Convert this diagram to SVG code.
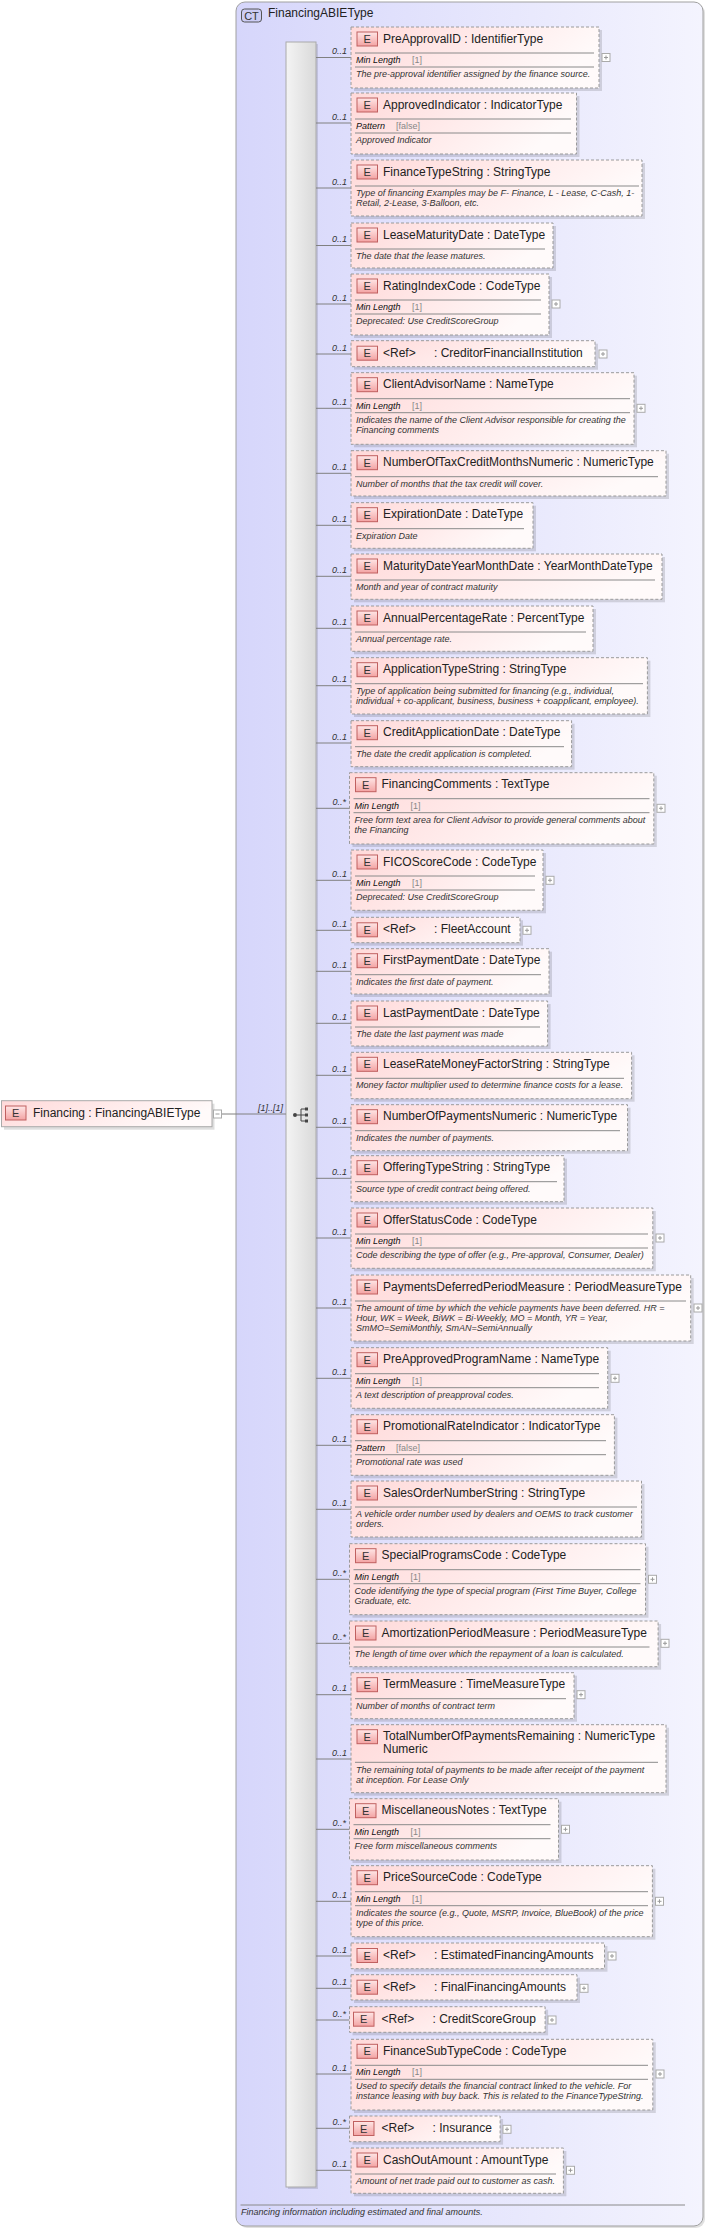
<svg xmlns="http://www.w3.org/2000/svg" width="708" height="2228" viewBox="0 0 708 2228">
<defs>
<linearGradient id="ctg" x1="0" y1="0" x2="1" y2="0"><stop offset="0" stop-color="#d6d6fb"/><stop offset="1" stop-color="#f4f4fe"/></linearGradient>
<linearGradient id="ng" x1="0" y1="0" x2="1" y2="0.3"><stop offset="0" stop-color="#ffd9d9"/><stop offset="1" stop-color="#fffafa"/></linearGradient>
<linearGradient id="eg" x1="0" y1="0" x2="0" y2="1"><stop offset="0" stop-color="#ffe6e6"/><stop offset="1" stop-color="#f3a3a3"/></linearGradient>
<linearGradient id="bg" x1="0" y1="0" x2="1" y2="0"><stop offset="0" stop-color="#f4f4f4"/><stop offset="1" stop-color="#d9d9d9"/></linearGradient>
<style>
.sh{fill:#000;opacity:.13}
.nb{fill:url(#ng);stroke:#9a9a9a;stroke-dasharray:3 2}
.ns{fill:url(#ng);stroke:#aaa}
.ei{fill:url(#eg);stroke:#c06060}
.et{font:11px "Liberation Sans",sans-serif;fill:#333;text-anchor:middle}
.t{font:12px "Liberation Sans",sans-serif;fill:#222}
.s{stroke:#8a8a8a}
.f{font:italic 9px "Liberation Sans",sans-serif;fill:#111}
.fv{font:9px "Liberation Sans",sans-serif;fill:#888}
.d{font:italic 9px "Liberation Sans",sans-serif;fill:#333}
.m{font:italic 9px "Liberation Sans",sans-serif;fill:#333;text-anchor:end}
.c{stroke:#808080;fill:none}
.pb{fill:#fff;stroke:#aaa}
.pp{stroke:#999}
</style>
</defs>
<g id="ct">
<rect x="238" y="4" width="467" height="2224" rx="9" fill="#000" opacity=".12"/>
<rect x="236" y="2" width="467" height="2224" rx="9" fill="url(#ctg)" stroke="#a0a0a0"/>
<rect x="241.5" y="9" width="20" height="13" rx="3" fill="#ccccf5" stroke="#555"/>
<text x="251.5" y="19.5" class="et">CT</text>
<text x="268" y="17" class="t">FinancingABIEType</text>
<line x1="240.5" y1="2205" x2="685" y2="2205" class="s"/>
<text x="241" y="2215" class="d">Financing information including estimated and final amounts.</text>
</g>
<g id="sequence">
<rect x="288" y="44" width="30" height="2145" fill="#000" opacity=".12"/>
<rect x="286" y="42" width="30" height="2145" fill="url(#bg)" stroke="#aaa"/>
<circle cx="295" cy="1115" r="2" fill="#444"/>
<path d="M297 1115H301M301 1109V1121M301 1109H305M301 1115H305M301 1121H305" stroke="#444" fill="none"/>
<rect x="305" y="1107.5" width="3" height="3" fill="#444"/><rect x="305" y="1113.5" width="3" height="3" fill="#444"/><rect x="305" y="1119.5" width="3" height="3" fill="#444"/>
</g>
<g id="connectors">
<path class="c" d="M221 1114H286"/>
<text x="283" y="1111" class="m">[1]..[1]</text>
<path class="c" d="M316 57.5H351M316 123H351M316 188H351M316 245.5H351M316 304H351M316 354H351M316 408.3H351M316 473.3H351M316 525.3H351M316 576.3H351M316 628.3H351M316 685.7H351M316 743H351M316 808.3H349.5M316 880.3H351M316 930.3H351M316 971.3H351M316 1023.3H351M316 1075.3H351M316 1127.3H351M316 1178.3H351M316 1238H351M316 1308H351M316 1378.3H351M316 1445.3H351M316 1509.3H351M316 1579.3H349.5M316 1643.3H349.5M316 1694.7H351M316 1759H351M316 1829.3H349.5M316 1901.3H351M316 1956H351M316 1988.3H351M316 2020H349.5M316 2074H351M316 2128.3H349.5M316 2170.3H351"/>
<g class="m">
<text x="347" y="54">0..1</text><text x="347" y="119.5">0..1</text><text x="347" y="184.5">0..1</text><text x="347" y="242">0..1</text><text x="347" y="300.5">0..1</text><text x="347" y="350.5">0..1</text><text x="347" y="404.8">0..1</text><text x="347" y="469.8">0..1</text><text x="347" y="521.8">0..1</text><text x="347" y="572.8">0..1</text><text x="347" y="624.8">0..1</text><text x="347" y="682.2">0..1</text><text x="347" y="739.5">0..1</text><text x="346" y="804.8">0..*</text><text x="347" y="876.8">0..1</text><text x="347" y="926.8">0..1</text><text x="347" y="967.8">0..1</text><text x="347" y="1019.8">0..1</text><text x="347" y="1071.8">0..1</text><text x="347" y="1123.8">0..1</text><text x="347" y="1174.8">0..1</text><text x="347" y="1234.5">0..1</text><text x="347" y="1304.5">0..1</text><text x="347" y="1374.8">0..1</text><text x="347" y="1441.8">0..1</text><text x="347" y="1505.8">0..1</text><text x="346" y="1575.8">0..*</text><text x="346" y="1639.8">0..*</text><text x="347" y="1691.2">0..1</text><text x="347" y="1755.5">0..1</text><text x="346" y="1825.8">0..*</text><text x="347" y="1897.8">0..1</text><text x="347" y="1952.5">0..1</text><text x="347" y="1984.8">0..1</text><text x="346" y="2016.5">0..*</text><text x="347" y="2070.5">0..1</text><text x="346" y="2124.8">0..*</text><text x="347" y="2166.8">0..1</text>
</g>
</g>
<g id="Financing">
<rect x="4" y="1103.7" width="210.5" height="26" class="sh"/>
<rect x="1.5" y="1100.7" width="210.5" height="26" class="ns"/>
<rect x="5.5" y="1106" width="20.5" height="14" class="ei"/><text x="15.7" y="1117" class="et">E</text>
<text x="33" y="1117" class="t">Financing : FinancingABIEType</text>
<rect x="213.5" y="1110" width="8" height="8" class="pb"/><path d="M215.5 1114H219.5" class="pp"/>
</g>
<g id="PreApprovalID" transform="translate(351 27)">
<rect x="3" y="3" width="248" height="61" class="sh"/><rect width="248" height="61" class="nb"/>
<rect x="6" y="5" width="20.5" height="14" class="ei"/><text x="16.2" y="16" class="et">E</text>
<text x="32" y="15.5" class="t">PreApprovalID : IdentifierType</text>
<path d="M4 26H243M4 40H243" class="s"/>
<text x="5" y="36" class="f">Min Length</text><text x="61" y="36" class="fv">[1]</text>
<text x="5" y="50" class="d">The pre-approval identifier assigned by the finance source.</text>
<rect x="251" y="26.5" width="8" height="8" class="pb"/><path d="M253 30.5H257M255 28.5V32.5" class="pp"/>
</g>
<g id="ApprovedIndicator" transform="translate(351 93)">
<rect x="3" y="3" width="225.5" height="61" class="sh"/><rect width="225.5" height="61" class="nb"/>
<rect x="6" y="5" width="20.5" height="14" class="ei"/><text x="16.2" y="16" class="et">E</text>
<text x="32" y="15.5" class="t">ApprovedIndicator : IndicatorType</text>
<path d="M4 26H220M4 40H220" class="s"/>
<text x="5" y="36" class="f">Pattern</text><text x="45" y="36" class="fv">[false]</text>
<text x="5" y="50" class="d">Approved Indicator</text>
</g>
<g id="FinanceTypeString" transform="translate(351 160)">
<rect x="3" y="3" width="291" height="56" class="sh"/><rect width="291" height="56" class="nb"/>
<rect x="6" y="5" width="20.5" height="14" class="ei"/><text x="16.2" y="16" class="et">E</text>
<text x="32" y="15.5" class="t">FinanceTypeString : StringType</text>
<path d="M4 26H288" class="s"/>
<text x="5" y="36" class="d">Type of financing Examples may be F- Finance, L - Lease, C-Cash, 1-</text>
<text x="5" y="46" class="d">Retail, 2-Lease, 3-Balloon, etc.</text>
</g>
<g id="LeaseMaturityDate" transform="translate(351 223)">
<rect x="3" y="3" width="202" height="45" class="sh"/><rect width="202" height="45" class="nb"/>
<rect x="6" y="5" width="20.5" height="14" class="ei"/><text x="16.2" y="16" class="et">E</text>
<text x="32" y="15.5" class="t">LeaseMaturityDate : DateType</text>
<path d="M4 26H194" class="s"/>
<text x="5" y="36" class="d">The date that the lease matures.</text>
</g>
<g id="RatingIndexCode" transform="translate(351 274)">
<rect x="3" y="3" width="198" height="61" class="sh"/><rect width="198" height="61" class="nb"/>
<rect x="6" y="5" width="20.5" height="14" class="ei"/><text x="16.2" y="16" class="et">E</text>
<text x="32" y="15.5" class="t">RatingIndexCode : CodeType</text>
<path d="M4 26H190M4 40H190" class="s"/>
<text x="5" y="36" class="f">Min Length</text><text x="61" y="36" class="fv">[1]</text>
<text x="5" y="50" class="d">Deprecated: Use CreditScoreGroup</text>
<rect x="201" y="26" width="8" height="8" class="pb"/><path d="M203 30H207M205 28V32" class="pp"/>
</g>
<g id="CreditorFinancialInstitution" transform="translate(351 340.7)">
<rect x="3" y="3" width="244" height="26" class="sh"/><rect width="244" height="26" class="nb"/>
<rect x="6" y="5.5" width="20.5" height="14" class="ei"/><text x="16.2" y="16.5" class="et">E</text>
<text x="32" y="16" class="t">&lt;Ref&gt;</text><text x="83" y="16" class="t">: CreditorFinancialInstitution</text>
<rect x="248" y="9.3" width="8" height="8" class="pb"/><path d="M250 13.3H254M252 11.3V15.3" class="pp"/>
</g>
<g id="ClientAdvisorName" transform="translate(351 372.7)">
<rect x="3" y="3" width="283" height="71.6" class="sh"/><rect width="283" height="71.6" class="nb"/>
<rect x="6" y="5" width="20.5" height="14" class="ei"/><text x="16.2" y="16" class="et">E</text>
<text x="32" y="15.5" class="t">ClientAdvisorName : NameType</text>
<path d="M4 26H279M4 40H279" class="s"/>
<text x="5" y="36" class="f">Min Length</text><text x="61" y="36" class="fv">[1]</text>
<text x="5" y="50" class="d">Indicates the name of the Client Advisor responsible for creating the</text>
<text x="5" y="60" class="d">Financing comments</text>
<rect x="286" y="31.6" width="8" height="8" class="pb"/><path d="M288 35.6H292M290 33.6V37.6" class="pp"/>
</g>
<g id="NumberOfTaxCreditMonthsNumeric" transform="translate(351 450.7)">
<rect x="3" y="3" width="315" height="45.3" class="sh"/><rect width="315" height="45.3" class="nb"/>
<rect x="6" y="5" width="20.5" height="14" class="ei"/><text x="16.2" y="16" class="et">E</text>
<text x="32" y="15.5" class="t">NumberOfTaxCreditMonthsNumeric : NumericType</text>
<path d="M4 26H307" class="s"/>
<text x="5" y="36" class="d">Number of months that the tax credit will cover.</text>
</g>
<g id="ExpirationDate" transform="translate(351 502.7)">
<rect x="3" y="3" width="182" height="45.6" class="sh"/><rect width="182" height="45.6" class="nb"/>
<rect x="6" y="5" width="20.5" height="14" class="ei"/><text x="16.2" y="16" class="et">E</text>
<text x="32" y="15.5" class="t">ExpirationDate : DateType</text>
<path d="M4 26H173" class="s"/>
<text x="5" y="36" class="d">Expiration Date</text>
</g>
<g id="MaturityDateYearMonthDate" transform="translate(351 554)">
<rect x="3" y="3" width="311" height="45.3" class="sh"/><rect width="311" height="45.3" class="nb"/>
<rect x="6" y="5" width="20.5" height="14" class="ei"/><text x="16.2" y="16" class="et">E</text>
<text x="32" y="15.5" class="t">MaturityDateYearMonthDate : YearMonthDateType</text>
<path d="M4 26H304" class="s"/>
<text x="5" y="36" class="d">Month and year of contract maturity</text>
</g>
<g id="AnnualPercentageRate" transform="translate(351 606)">
<rect x="3" y="3" width="242" height="45.3" class="sh"/><rect width="242" height="45.3" class="nb"/>
<rect x="6" y="5" width="20.5" height="14" class="ei"/><text x="16.2" y="16" class="et">E</text>
<text x="32" y="15.5" class="t">AnnualPercentageRate : PercentType</text>
<path d="M4 26H235" class="s"/>
<text x="5" y="36" class="d">Annual percentage rate.</text>
</g>
<g id="ApplicationTypeString" transform="translate(351 657.7)">
<rect x="3" y="3" width="296.4" height="56.3" class="sh"/><rect width="296.4" height="56.3" class="nb"/>
<rect x="6" y="5" width="20.5" height="14" class="ei"/><text x="16.2" y="16" class="et">E</text>
<text x="32" y="15.5" class="t">ApplicationTypeString : StringType</text>
<path d="M4 26H292" class="s"/>
<text x="5" y="36" class="d">Type of application being submitted for financing (e.g., individual,</text>
<text x="5" y="46" class="d">individual + co-applicant, business, business + coapplicant, employee).</text>
</g>
<g id="CreditApplicationDate" transform="translate(351 720.7)">
<rect x="3" y="3" width="220.6" height="46" class="sh"/><rect width="220.6" height="46" class="nb"/>
<rect x="6" y="5" width="20.5" height="14" class="ei"/><text x="16.2" y="16" class="et">E</text>
<text x="32" y="15.5" class="t">CreditApplicationDate : DateType</text>
<path d="M4 26H213" class="s"/>
<text x="5" y="36" class="d">The date the credit application is completed.</text>
</g>
<g id="FinancingComments" transform="translate(349.5 772.7)">
<rect x="3" y="3" width="304.3" height="71.3" class="sh"/><rect width="304.3" height="71.3" class="nb"/>
<rect x="6" y="5" width="20.5" height="14" class="ei"/><text x="16.2" y="16" class="et">E</text>
<text x="32" y="15.5" class="t">FinancingComments : TextType</text>
<path d="M4 26H300M4 40H300" class="s"/>
<text x="5" y="36" class="f">Min Length</text><text x="61" y="36" class="fv">[1]</text>
<text x="5" y="50" class="d">Free form text area for Client Advisor to provide general comments about</text>
<text x="5" y="60" class="d">the Financing</text>
<rect x="307.5" y="31.6" width="8" height="8" class="pb"/><path d="M309.5 35.6H313.5M311.5 33.6V37.6" class="pp"/>
</g>
<g id="FICOScoreCode" transform="translate(351 850)">
<rect x="3" y="3" width="192" height="60.3" class="sh"/><rect width="192" height="60.3" class="nb"/>
<rect x="6" y="5" width="20.5" height="14" class="ei"/><text x="16.2" y="16" class="et">E</text>
<text x="32" y="15.5" class="t">FICOScoreCode : CodeType</text>
<path d="M4 26H184M4 40H184" class="s"/>
<text x="5" y="36" class="f">Min Length</text><text x="61" y="36" class="fv">[1]</text>
<text x="5" y="50" class="d">Deprecated: Use CreditScoreGroup</text>
<rect x="195" y="26.3" width="8" height="8" class="pb"/><path d="M197 30.3H201M199 28.3V32.3" class="pp"/>
</g>
<g id="FleetAccount" transform="translate(351 917.3)">
<rect x="3" y="3" width="169" height="25.4" class="sh"/><rect width="169" height="25.4" class="nb"/>
<rect x="6" y="5.5" width="20.5" height="14" class="ei"/><text x="16.2" y="16.5" class="et">E</text>
<text x="32" y="16" class="t">&lt;Ref&gt;</text><text x="83" y="16" class="t">: FleetAccount</text>
<rect x="172" y="9" width="8" height="8" class="pb"/><path d="M174 13H178M176 11V15" class="pp"/>
</g>
<g id="FirstPaymentDate" transform="translate(351 948.7)">
<rect x="3" y="3" width="198" height="45.3" class="sh"/><rect width="198" height="45.3" class="nb"/>
<rect x="6" y="5" width="20.5" height="14" class="ei"/><text x="16.2" y="16" class="et">E</text>
<text x="32" y="15.5" class="t">FirstPaymentDate : DateType</text>
<path d="M4 26H190" class="s"/>
<text x="5" y="36" class="d">Indicates the first date of payment.</text>
</g>
<g id="LastPaymentDate" transform="translate(351 1001)">
<rect x="3" y="3" width="196.6" height="45" class="sh"/><rect width="196.6" height="45" class="nb"/>
<rect x="6" y="5" width="20.5" height="14" class="ei"/><text x="16.2" y="16" class="et">E</text>
<text x="32" y="15.5" class="t">LastPaymentDate : DateType</text>
<path d="M4 26H189" class="s"/>
<text x="5" y="36" class="d">The date the last payment was made</text>
</g>
<g id="LeaseRateMoneyFactorString" transform="translate(351 1052.3)">
<rect x="3" y="3" width="280.6" height="46.4" class="sh"/><rect width="280.6" height="46.4" class="nb"/>
<rect x="6" y="5" width="20.5" height="14" class="ei"/><text x="16.2" y="16" class="et">E</text>
<text x="32" y="15.5" class="t">LeaseRateMoneyFactorString : StringType</text>
<path d="M4 26H273" class="s"/>
<text x="5" y="36" class="d">Money factor multiplier used to determine finance costs for a lease.</text>
</g>
<g id="NumberOfPaymentsNumeric" transform="translate(351 1104.7)">
<rect x="3" y="3" width="276.5" height="46" class="sh"/><rect width="276.5" height="46" class="nb"/>
<rect x="6" y="5" width="20.5" height="14" class="ei"/><text x="16.2" y="16" class="et">E</text>
<text x="32" y="15.5" class="t">NumberOfPaymentsNumeric : NumericType</text>
<path d="M4 26H269" class="s"/>
<text x="5" y="36" class="d">Indicates the number of payments.</text>
</g>
<g id="OfferingTypeString" transform="translate(351 1155.7)">
<rect x="3" y="3" width="213" height="46" class="sh"/><rect width="213" height="46" class="nb"/>
<rect x="6" y="5" width="20.5" height="14" class="ei"/><text x="16.2" y="16" class="et">E</text>
<text x="32" y="15.5" class="t">OfferingTypeString : StringType</text>
<path d="M4 26H206" class="s"/>
<text x="5" y="36" class="d">Source type of credit contract being offered.</text>
</g>
<g id="OfferStatusCode" transform="translate(351 1208)">
<rect x="3" y="3" width="301.8" height="60.3" class="sh"/><rect width="301.8" height="60.3" class="nb"/>
<rect x="6" y="5" width="20.5" height="14" class="ei"/><text x="16.2" y="16" class="et">E</text>
<text x="32" y="15.5" class="t">OfferStatusCode : CodeType</text>
<path d="M4 26H297M4 40H297" class="s"/>
<text x="5" y="36" class="f">Min Length</text><text x="61" y="36" class="fv">[1]</text>
<text x="5" y="50" class="d">Code describing the type of offer (e.g., Pre-approval, Consumer, Dealer)</text>
<rect x="305" y="26" width="8" height="8" class="pb"/><path d="M307 30H311M309 28V32" class="pp"/>
</g>
<g id="PaymentsDeferredPeriodMeasure" transform="translate(351 1275)">
<rect x="3" y="3" width="339.7" height="66" class="sh"/><rect width="339.7" height="66" class="nb"/>
<rect x="6" y="5" width="20.5" height="14" class="ei"/><text x="16.2" y="16" class="et">E</text>
<text x="32" y="15.5" class="t">PaymentsDeferredPeriodMeasure : PeriodMeasureType</text>
<path d="M4 26H335" class="s"/>
<text x="5" y="36" class="d">The amount of time by which the vehicle payments have been deferred. HR =</text>
<text x="5" y="46" class="d">Hour, WK = Week, BiWK = Bi-Weekly, MO = Month, YR = Year,</text>
<text x="5" y="56" class="d">SmMO=SemiMonthly, SmAN=SemiAnnually</text>
<rect x="343" y="29" width="8" height="8" class="pb"/><path d="M345 33H349M347 31V35" class="pp"/>
</g>
<g id="PreApprovedProgramName" transform="translate(351 1347.7)">
<rect x="3" y="3" width="256.7" height="60.6" class="sh"/><rect width="256.7" height="60.6" class="nb"/>
<rect x="6" y="5" width="20.5" height="14" class="ei"/><text x="16.2" y="16" class="et">E</text>
<text x="32" y="15.5" class="t">PreApprovedProgramName : NameType</text>
<path d="M4 26H248M4 40H248" class="s"/>
<text x="5" y="36" class="f">Min Length</text><text x="61" y="36" class="fv">[1]</text>
<text x="5" y="50" class="d">A text description of preapproval codes.</text>
<rect x="260" y="26.6" width="8" height="8" class="pb"/><path d="M262 30.6H266M264 28.6V32.6" class="pp"/>
</g>
<g id="PromotionalRateIndicator" transform="translate(351 1414.7)">
<rect x="3" y="3" width="263.4" height="60.6" class="sh"/><rect width="263.4" height="60.6" class="nb"/>
<rect x="6" y="5" width="20.5" height="14" class="ei"/><text x="16.2" y="16" class="et">E</text>
<text x="32" y="15.5" class="t">PromotionalRateIndicator : IndicatorType</text>
<path d="M4 26H255M4 40H255" class="s"/>
<text x="5" y="36" class="f">Pattern</text><text x="45" y="36" class="fv">[false]</text>
<text x="5" y="50" class="d">Promotional rate was used</text>
</g>
<g id="SalesOrderNumberString" transform="translate(351 1481)">
<rect x="3" y="3" width="290.5" height="56" class="sh"/><rect width="290.5" height="56" class="nb"/>
<rect x="6" y="5" width="20.5" height="14" class="ei"/><text x="16.2" y="16" class="et">E</text>
<text x="32" y="15.5" class="t">SalesOrderNumberString : StringType</text>
<path d="M4 26H286" class="s"/>
<text x="5" y="36" class="d">A vehicle order number used by dealers and OEMS to track customer</text>
<text x="5" y="46" class="d">orders.</text>
</g>
<g id="SpecialProgramsCode" transform="translate(349.5 1543.7)">
<rect x="3" y="3" width="296" height="71" class="sh"/><rect width="296" height="71" class="nb"/>
<rect x="6" y="5" width="20.5" height="14" class="ei"/><text x="16.2" y="16" class="et">E</text>
<text x="32" y="15.5" class="t">SpecialProgramsCode : CodeType</text>
<path d="M4 26H291M4 40H291" class="s"/>
<text x="5" y="36" class="f">Min Length</text><text x="61" y="36" class="fv">[1]</text>
<text x="5" y="50" class="d">Code identifying the type of special program (First Time Buyer, College</text>
<text x="5" y="60" class="d">Graduate, etc.</text>
<rect x="299" y="31.6" width="8" height="8" class="pb"/><path d="M301 35.6H305M303 33.6V37.6" class="pp"/>
</g>
<g id="AmortizationPeriodMeasure" transform="translate(349.5 1621)">
<rect x="3" y="3" width="308.6" height="45.7" class="sh"/><rect width="308.6" height="45.7" class="nb"/>
<rect x="6" y="5" width="20.5" height="14" class="ei"/><text x="16.2" y="16" class="et">E</text>
<text x="32" y="15.5" class="t">AmortizationPeriodMeasure : PeriodMeasureType</text>
<path d="M4 26H300" class="s"/>
<text x="5" y="36" class="d">The length of time over which the repayment of a loan is calculated.</text>
<rect x="311.5" y="18.3" width="8" height="8" class="pb"/><path d="M313.5 22.3H317.5M315.5 20.3V24.3" class="pp"/>
</g>
<g id="TermMeasure" transform="translate(351 1672.7)">
<rect x="3" y="3" width="223" height="46" class="sh"/><rect width="223" height="46" class="nb"/>
<rect x="6" y="5" width="20.5" height="14" class="ei"/><text x="16.2" y="16" class="et">E</text>
<text x="32" y="15.5" class="t">TermMeasure : TimeMeasureType</text>
<path d="M4 26H215" class="s"/>
<text x="5" y="36" class="d">Number of months of contract term</text>
<rect x="226" y="18" width="8" height="8" class="pb"/><path d="M228 22H232M230 20V24" class="pp"/>
</g>
<g id="TotalNumberOfPaymentsRemaining" transform="translate(351 1724.7)">
<rect x="3" y="3" width="315" height="68" class="sh"/><rect width="315" height="68" class="nb"/>
<rect x="6" y="5" width="20.5" height="14" class="ei"/><text x="16.2" y="16" class="et">E</text>
<text x="32" y="15.5" class="t">TotalNumberOfPaymentsRemaining : NumericType</text>
<text x="32" y="28" class="t">Numeric</text>
<path d="M4 37.6H307" class="s"/>
<text x="5" y="48" class="d">The remaining total of payments to be made after receipt of the payment</text>
<text x="5" y="58" class="d">at inception. For Lease Only</text>
</g>
<g id="MiscellaneousNotes" transform="translate(349.5 1798.7)">
<rect x="3" y="3" width="209" height="61.3" class="sh"/><rect width="209" height="61.3" class="nb"/>
<rect x="6" y="5" width="20.5" height="14" class="ei"/><text x="16.2" y="16" class="et">E</text>
<text x="32" y="15.5" class="t">MiscellaneousNotes : TextType</text>
<path d="M4 26H201M4 40H201" class="s"/>
<text x="5" y="36" class="f">Min Length</text><text x="61" y="36" class="fv">[1]</text>
<text x="5" y="50" class="d">Free form miscellaneous comments</text>
<rect x="212" y="26.6" width="8" height="8" class="pb"/><path d="M214 30.6H218M216 28.6V32.6" class="pp"/>
</g>
<g id="PriceSourceCode" transform="translate(351 1865.7)">
<rect x="3" y="3" width="301.4" height="71" class="sh"/><rect width="301.4" height="71" class="nb"/>
<rect x="6" y="5" width="20.5" height="14" class="ei"/><text x="16.2" y="16" class="et">E</text>
<text x="32" y="15.5" class="t">PriceSourceCode : CodeType</text>
<path d="M4 26H297M4 40H297" class="s"/>
<text x="5" y="36" class="f">Min Length</text><text x="61" y="36" class="fv">[1]</text>
<text x="5" y="50" class="d">Indicates the source (e.g., Quote, MSRP, Invoice, BlueBook) of the price</text>
<text x="5" y="60" class="d">type of this price.</text>
<rect x="304.5" y="31.6" width="8" height="8" class="pb"/><path d="M306.5 35.6H310.5M308.5 33.6V37.6" class="pp"/>
</g>
<g id="EstimatedFinancingAmounts" transform="translate(351 1943)">
<rect x="3" y="3" width="253.5" height="25.7" class="sh"/><rect width="253.5" height="25.7" class="nb"/>
<rect x="6" y="5.5" width="20.5" height="14" class="ei"/><text x="16.2" y="16.5" class="et">E</text>
<text x="32" y="16" class="t">&lt;Ref&gt;</text><text x="83" y="16" class="t">: EstimatedFinancingAmounts</text>
<rect x="257" y="9" width="8" height="8" class="pb"/><path d="M259 13H263M261 11V15" class="pp"/>
</g>
<g id="FinalFinancingAmounts" transform="translate(351 1974.7)">
<rect x="3" y="3" width="226" height="25.3" class="sh"/><rect width="226" height="25.3" class="nb"/>
<rect x="6" y="5.5" width="20.5" height="14" class="ei"/><text x="16.2" y="16.5" class="et">E</text>
<text x="32" y="16" class="t">&lt;Ref&gt;</text><text x="83" y="16" class="t">: FinalFinancingAmounts</text>
<rect x="229" y="9.6" width="8" height="8" class="pb"/><path d="M231 13.6H235M233 11.6V15.6" class="pp"/>
</g>
<g id="CreditScoreGroup" transform="translate(349.5 2006.7)">
<rect x="3" y="3" width="195.6" height="25.6" class="sh"/><rect width="195.6" height="25.6" class="nb"/>
<rect x="4" y="5.5" width="20.5" height="14" class="ei"/><text x="14.2" y="16.5" class="et">E</text>
<text x="32" y="16" class="t">&lt;Ref&gt;</text><text x="83" y="16" class="t">: CreditScoreGroup</text>
<rect x="198.5" y="9.3" width="8" height="8" class="pb"/><path d="M200.5 13.3H204.5M202.5 11.3V15.3" class="pp"/>
</g>
<g id="FinanceSubTypeCode" transform="translate(351 2039.3)">
<rect x="3" y="3" width="301.8" height="70.7" class="sh"/><rect width="301.8" height="70.7" class="nb"/>
<rect x="6" y="5" width="20.5" height="14" class="ei"/><text x="16.2" y="16" class="et">E</text>
<text x="32" y="15.5" class="t">FinanceSubTypeCode : CodeType</text>
<path d="M4 26H297M4 40H297" class="s"/>
<text x="5" y="36" class="f">Min Length</text><text x="61" y="36" class="fv">[1]</text>
<text x="5" y="50" class="d">Used to specify details the financial contract linked to the vehicle. For</text>
<text x="5" y="60" class="d">instance leasing with buy back. This is related to the FinanceTypeString.</text>
<rect x="305" y="30.7" width="8" height="8" class="pb"/><path d="M307 34.7H311M309 32.7V36.7" class="pp"/>
</g>
<g id="Insurance" transform="translate(349.5 2116)">
<rect x="3" y="3" width="150.6" height="25.7" class="sh"/><rect width="150.6" height="25.7" class="nb"/>
<rect x="4" y="5.5" width="20.5" height="14" class="ei"/><text x="14.2" y="16.5" class="et">E</text>
<text x="32" y="16" class="t">&lt;Ref&gt;</text><text x="83" y="16" class="t">: Insurance</text>
<rect x="153.5" y="9.3" width="8" height="8" class="pb"/><path d="M155.5 13.3H159.5M157.5 11.3V15.3" class="pp"/>
</g>
<g id="CashOutAmount" transform="translate(351 2148)">
<rect x="3" y="3" width="212.4" height="45.3" class="sh"/><rect width="212.4" height="45.3" class="nb"/>
<rect x="6" y="5" width="20.5" height="14" class="ei"/><text x="16.2" y="16" class="et">E</text>
<text x="32" y="15.5" class="t">CashOutAmount : AmountType</text>
<path d="M4 26H205" class="s"/>
<text x="5" y="36" class="d">Amount of net trade paid out to customer as cash.</text>
<rect x="215.5" y="18.3" width="8" height="8" class="pb"/><path d="M217.5 22.3H221.5M219.5 20.3V24.3" class="pp"/>
</g>
</svg>
